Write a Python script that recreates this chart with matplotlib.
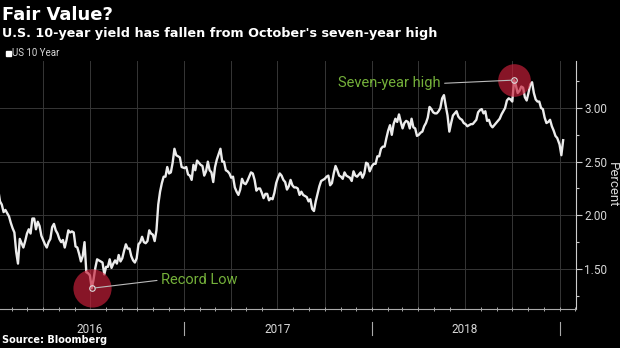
import numpy as np
import pandas as pd
import matplotlib
matplotlib.use("Agg")
import matplotlib.pyplot as plt
import matplotlib.dates as mdates
from matplotlib.patches import Rectangle
from matplotlib.ticker import FixedLocator, FuncFormatter

# US 10-year yield, read off the chart roughly twice a week (percent)
y2016 = [
    2.27, 2.24, 2.13, 2.10, 2.03, 2.05, 2.02, 1.99, 1.93,  # Jan
    1.88, 1.84, 1.66, 1.55, 1.78, 1.74, 1.70, 1.76,        # Feb
    1.83, 1.87, 1.83, 1.97, 1.97, 1.87, 1.94, 1.90, 1.81,  # Mar
    1.77, 1.73, 1.70, 1.75, 1.78, 1.89, 1.92, 1.86, 1.83,  # Apr
    1.78, 1.75, 1.77, 1.70, 1.77, 1.86, 1.84, 1.85, 1.84,  # May
    1.71, 1.70, 1.64, 1.57, 1.62, 1.75, 1.47, 1.46,        # Jun
    1.44, 1.32, 1.40, 1.51, 1.59, 1.58, 1.57, 1.56, 1.45,  # Jul
    1.52, 1.52, 1.59, 1.51, 1.55, 1.58, 1.55, 1.63, 1.57,  # Aug
    1.60, 1.67, 1.73, 1.69, 1.69, 1.62, 1.58, 1.56,        # Sep
    1.60, 1.73, 1.75, 1.80, 1.75, 1.74, 1.76, 1.86, 1.83,  # Oct
    1.82, 1.76, 1.86, 2.10, 2.22, 2.30, 2.36, 2.36,        # Nov
    2.45, 2.39, 2.40, 2.49, 2.62, 2.56, 2.55, 2.54, 2.45,  # Dec
]
y2017 = [
    2.44, 2.45, 2.38, 2.37, 2.33, 2.47, 2.42, 2.51, 2.49,  # Jan
    2.47, 2.46, 2.37, 2.41, 2.50, 2.42, 2.40, 2.31,        # Feb
    2.45, 2.52, 2.57, 2.62, 2.50, 2.50, 2.42, 2.41, 2.39,  # Mar
    2.35, 2.36, 2.26, 2.22, 2.19, 2.24, 2.34, 2.30, 2.29,  # Apr
    2.32, 2.36, 2.40, 2.39, 2.33, 2.23, 2.25, 2.25, 2.21,  # May
    2.16, 2.20, 2.20, 2.14, 2.16, 2.15, 2.21, 2.30,        # Jun
    2.35, 2.39, 2.37, 2.33, 2.31, 2.24, 2.27, 2.33, 2.28,  # Jul
    2.26, 2.26, 2.25, 2.19, 2.22, 2.19, 2.18, 2.17, 2.13,  # Aug
    2.15, 2.06, 2.04, 2.13, 2.20, 2.27, 2.32, 2.33,        # Sep
    2.34, 2.36, 2.37, 2.28, 2.30, 2.39, 2.46, 2.42, 2.37,  # Oct
    2.36, 2.34, 2.40, 2.37, 2.36, 2.35, 2.32, 2.41,        # Nov
    2.37, 2.36, 2.38, 2.40, 2.35, 2.39, 2.49, 2.48, 2.41,  # Dec
]
y2018 = [
    2.46, 2.48, 2.48, 2.55, 2.55, 2.62, 2.64, 2.64, 2.72,  # Jan
    2.79, 2.84, 2.75, 2.85, 2.90, 2.87, 2.94, 2.87,        # Feb
    2.81, 2.86, 2.88, 2.87, 2.81, 2.90, 2.82, 2.81, 2.74,  # Mar
    2.75, 2.77, 2.78, 2.83, 2.86, 2.91, 3.01, 2.99, 2.96,  # Apr
    2.95, 2.95, 2.97, 3.00, 3.09, 3.12, 3.02, 2.93, 2.78,  # May
    2.86, 2.93, 2.95, 2.97, 2.92, 2.90, 2.89, 2.86,        # Jun
    2.85, 2.83, 2.84, 2.85, 2.85, 2.87, 2.89, 2.96, 2.98,  # Jul
    2.99, 2.95, 2.97, 2.88, 2.89, 2.84, 2.82, 2.84, 2.86,  # Aug
    2.88, 2.90, 2.94, 2.97, 3.00, 3.07, 3.09, 3.08,        # Sep
    3.06, 3.26, 3.21, 3.14, 3.16, 3.20, 3.19, 3.10, 3.07,  # Oct
    3.14, 3.22, 3.24, 3.14, 3.08, 3.06, 3.06, 3.00,        # Nov
    2.99, 2.91, 2.86, 2.87, 2.89, 2.83, 2.79, 2.74, 2.72,  # Dec
]
y2019 = [2.66, 2.56, 2.70]

year_labels = ["2016", "2017", "2018"]

TXT = "#d8d8d8"
GRID = "#363636"
GREEN = "#74b03a"


def year_dates(year, vals):
    return pd.date_range(f"{year}-01-01", periods=len(vals), freq="84h")


dates = np.concatenate([year_dates(2016, y2016), year_dates(2017, y2017),
                        year_dates(2018, y2018), year_dates(2019, y2019)])
vals = np.array(y2016 + y2017 + y2018 + y2019)

fig = plt.figure(figsize=(6.2, 3.48), dpi=100, facecolor="black")
ax = fig.add_axes([0, 1 - 309 / 348, 576 / 620, 248 / 348])
ax.set_facecolor("black")

ax.plot(dates, vals, color="#ececec", lw=1.7, zorder=2)

# quarterly grid
for d in pd.date_range("2016-04-01", "2019-01-01", freq="QS"):
    ax.axvline(d, color=GRID, lw=0.7, zorder=0)

ax.set_xlim(pd.Timestamp("2016-01-08"), pd.Timestamp("2019-02-02"))
ax.set_ylim(1.127, 3.438)

ax.yaxis.tick_right()
ax.yaxis.set_major_locator(FixedLocator([1.5, 2.0, 2.5, 3.0]))
ax.yaxis.set_minor_locator(FixedLocator([1.25, 1.75, 2.25, 2.75, 3.25]))
ax.yaxis.set_major_formatter(FuncFormatter(lambda v, p: f"{v:.2f}"))
ax.yaxis.grid(True, which="major", color=GRID, lw=0.7, zorder=0)
ax.tick_params(axis="y", which="major", length=4, width=0.8, color="#cccccc",
               labelcolor=TXT, labelsize=8.5, pad=2)
ax.tick_params(axis="y", which="minor", length=2.5, width=0.8, color="#cccccc")

ax.xaxis.set_major_locator(mdates.MonthLocator(bymonth=[7], bymonthday=1))
ax.xaxis.set_major_formatter(FuncFormatter(
    lambda v, p: year_labels[p] if p is not None and p < len(year_labels) else mdates.num2date(v).strftime("%Y")))
ax.xaxis.set_minor_locator(mdates.MonthLocator())
ax.tick_params(axis="x", which="major", length=0, pad=10, labelcolor=TXT, labelsize=8.5)
ax.tick_params(axis="x", which="minor", length=3, width=0.7, direction="inout", color="#aaaaaa")

for lab in ax.get_xticklabels() + ax.get_yticklabels():
    lab.set_family("Roboto")

for s in ["left", "top"]:
    ax.spines[s].set_visible(False)
ax.spines["bottom"].set_color("#aaaaaa")
ax.spines["bottom"].set_linewidth(0.8)
ax.spines["right"].set_color("#cccccc")
ax.spines["right"].set_linewidth(0.8)

# year separators below the axis
for yr in [2017, 2018, 2019]:
    ax.plot([pd.Timestamp(f"{yr}-01-01")] * 2, [-0.052, -0.105], color="#aaaaaa", lw=0.8,
            transform=ax.get_xaxis_transform(), clip_on=False)

# annotations
lo_i = int(np.argmin(y2016))
lo_x, lo_y = year_dates(2016, y2016)[lo_i], y2016[lo_i]
hi_i = int(np.argmax(y2018))
hi_x, hi_y = year_dates(2018, y2018)[hi_i], y2018[hi_i]

ax.plot(lo_x, lo_y, "o", ms=27.5, color="#c8203a", alpha=0.68, mec="none", zorder=3, clip_on=False)
ax.plot(hi_x, hi_y, "o", ms=23.5, color="#c8203a", alpha=0.68, mec="none", zorder=3, clip_on=False)
for x, y in [(lo_x, lo_y), (hi_x, hi_y)]:
    ax.plot(x, y, "o", ms=4, mfc="none", mec="#dddddd", mew=0.8, zorder=4)

ax.annotate("Record Low", xy=(lo_x, lo_y), xytext=(50, 6), textcoords="offset points",
            ha="left", va="center", color=GREEN, fontsize=10.5, family="Roboto",
            arrowprops=dict(arrowstyle="-", color="#bbbbbb", lw=0.8, shrinkA=1, shrinkB=2,
                            relpos=(0, 0.5)), zorder=5)
ax.annotate("Seven-year high", xy=(hi_x, hi_y), xytext=(-53, -2.4), textcoords="offset points",
            ha="right", va="center", color=GREEN, fontsize=10.5, family="Roboto",
            arrowprops=dict(arrowstyle="-", color="#bbbbbb", lw=0.8, shrinkA=1, shrinkB=2,
                            relpos=(1, 0.5)), zorder=5)

# titles and labels
fig.text(0.004, 1 - 19.5 / 348, "Fair Value?", fontsize=13, fontweight="bold",
         color="white", va="baseline", family="DejaVu Sans")
fig.text(0.004, 1 - 36.5 / 348, "U.S. 10-year yield has fallen from October's seven-year high",
         fontsize=9.2, fontweight="bold", color="white", va="baseline", family="DejaVu Sans")
fig.patches.append(Rectangle((5.5 / 620, 1 - 55.5 / 348), 5 / 620, 5 / 348,
                             transform=fig.transFigure, color="white"))
fig.text(12 / 620, 1 - 55.5 / 348, "US 10 Year", fontsize=7, color=TXT, va="baseline",
         family="Roboto")
fig.text(612 / 620, 1 - 185 / 348, "Percent", rotation=270, ha="center", va="center",
         fontsize=9.5, color=TXT, family="Roboto")
fig.text(0.004, 1 - 343 / 348, "Source: Bloomberg", fontsize=7, fontweight="bold",
         color="white", va="baseline", family="DejaVu Sans")

fig.savefig("out.png", dpi=100, facecolor="black")
